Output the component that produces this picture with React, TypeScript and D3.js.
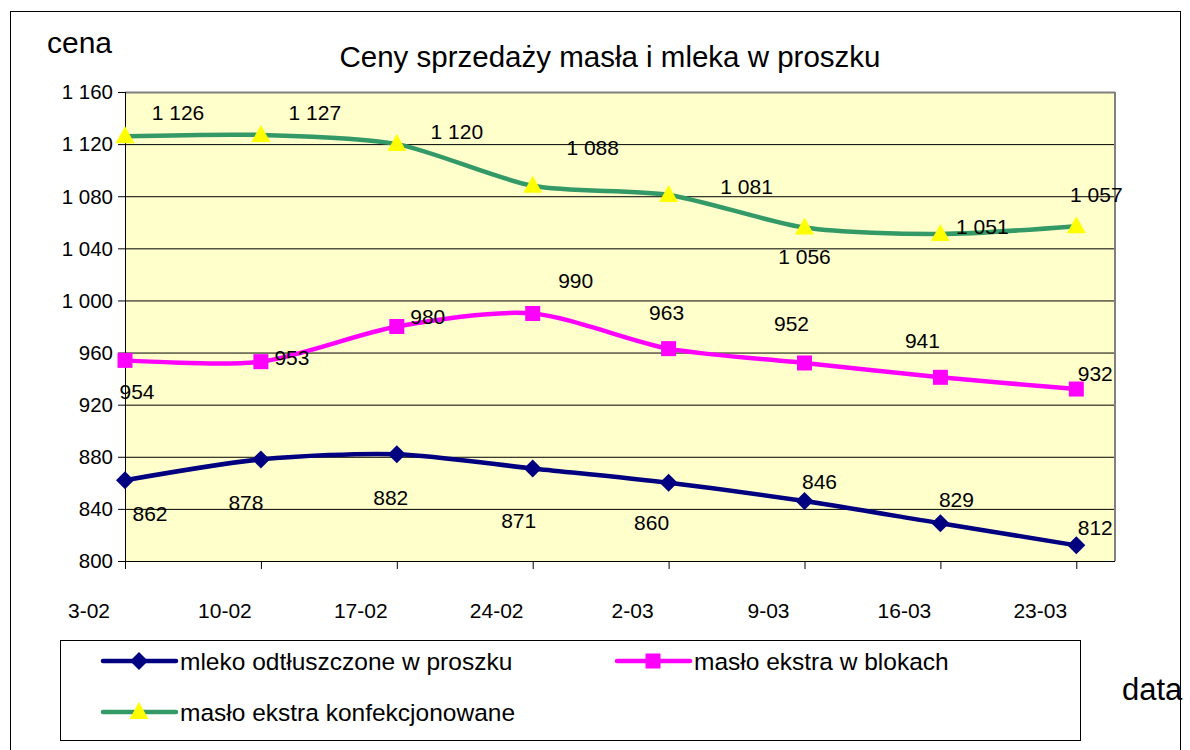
import React from 'react';
import * as d3 from 'd3';

const dates = ['3-02', '10-02', '17-02', '24-02', '2-03', '9-03', '16-03', '23-03'];
const mleko = [862, 878, 882, 871, 860, 846, 829, 812];
const masloBloki = [954, 953, 980, 990, 963, 952, 941, 932];
const masloKonf = [1126, 1127, 1120, 1088, 1081, 1056, 1051, 1057];
const yTicks = [800, 840, 880, 920, 960, 1000, 1040, 1080, 1120, 1160];

// label placement (offset of the label centre from its point), as in the original
const mlekoLabelPos = [[25, 33], [-15, 43], [-6, 43], [-14, 52], [-17, 40], [15, -20], [16, -24], [19, -18]];
const blokiLabelPos = [[12, 31], [31, -4], [31, -10], [43, -33], [-2, -36], [-13, -40], [-18, -37], [19, -16]];
const konfLabelPos = [[53, -24], [54, -23], [60, -13], [60, -38], [78, -8], [0, 29], [42, -8], [20, -32]];

const FONT = '"Liberation Sans", Arial, sans-serif';
const fmt = (v: number) => d3.format(',')(v).replace(/,/g, '\u00a0');

const W = 1190;
const H = 750;
const plot = { left: 125, right: 1115, top: 92, bottom: 561 };
const step = 135.9;

const x = d3.scaleLinear().domain([0, 1]).range([plot.left, plot.left + step]);
const y = d3.scaleLinear().domain([800, 1160]).range([plot.bottom, plot.top]);

const line = d3.line<number>()
  .x((_, i) => x(i))
  .y(d => y(d))
  .curve(d3.curveCardinal.tension(0.2));

const diamond = (cx: number, cy: number, r: number) =>
  `M${cx},${cy - r}L${cx + r},${cy}L${cx},${cy + r}L${cx - r},${cy}Z`;
const triangle = (cx: number, cy: number) =>
  `M${cx},${cy - 10}L${cx + 9.5},${cy + 7}L${cx - 9.5},${cy + 7}Z`;

const series = [
  { name: 'mleko odtłuszczone w proszku', values: mleko, color: '#000080', marker: 'diamond', labels: mlekoLabelPos },
  { name: 'masło ekstra w blokach', values: masloBloki, color: '#FF00FF', marker: 'square', labels: blokiLabelPos },
  { name: 'masło ekstra konfekcjonowane', values: masloKonf, color: '#339966', marker: 'triangle', labels: konfLabelPos },
];

function Marker({ kind, cx, cy }: { kind: string; cx: number; cy: number }) {
  if (kind === 'diamond') return <path d={diamond(cx, cy, 9)} fill="#000080" />;
  if (kind === 'square') return <rect x={cx - 7.5} y={cy - 7.5} width={15} height={15} fill="#FF00FF" />;
  return <path d={triangle(cx, cy)} fill="#FFFF00" />;
}

export default function App() {
  return (
    <svg width={W} height={H} style={{ display: 'block', position: 'absolute', left: 0, top: 0 }} fontFamily={FONT}>
      <rect x={0} y={0} width={W} height={H} fill="#fff" />
      <rect x={10.5} y={11.5} width={1170} height={740} fill="#fff" stroke="#000" strokeWidth={1} />

      <text x={47} y={53} fontSize={30} fill="#000">cena</text>
      <text x={610} y={67} fontSize={29.5} textAnchor="middle" fill="#000">Ceny sprzedaży masła i mleka w proszku</text>
      <text x={1122} y={700} fontSize={31} fill="#000">data</text>

      {/* plot area */}
      <rect x={plot.left} y={plot.top} width={plot.right - plot.left} height={plot.bottom - plot.top} fill="#FFFFCC" />
      {yTicks.map(t => (
        <g key={t}>
          {t !== 800 && t !== 1160 && (
            <line x1={plot.left} x2={plot.right} y1={y(t) + 0.5} y2={y(t) + 0.5} stroke="#000" strokeWidth={1} />
          )}
          <line x1={plot.left - 7} x2={plot.left} y1={y(t) + 0.5} y2={y(t) + 0.5} stroke="#000" />
          <text x={113} y={y(t)} dy="0.36em" fontSize={20.5} textAnchor="end" fill="#000">{fmt(t)}</text>
        </g>
      ))}
      <line x1={plot.left} x2={plot.right} y1={plot.top + 0.5} y2={plot.top + 0.5} stroke="#808080" strokeWidth={2} />
      <line x1={plot.right} x2={plot.right} y1={plot.top} y2={plot.bottom} stroke="#808080" strokeWidth={2} />
      <line x1={plot.left} x2={plot.right} y1={plot.bottom + 0.5} y2={plot.bottom + 0.5} stroke="#000" />
      <line x1={plot.left + 0.5} x2={plot.left + 0.5} y1={plot.top} y2={plot.bottom} stroke="#000" />

      {dates.map((d, i) => (
        <g key={d}>
          <line x1={x(i) + 0.5} x2={x(i) + 0.5} y1={plot.bottom} y2={plot.bottom + 8} stroke="#000" />
          <text x={x(i) - 36} y={610} dy="0.36em" fontSize={21} textAnchor="middle" fill="#000">{d}</text>
        </g>
      ))}

      {series.map(s => (
        <g key={s.name}>
          <path d={line(s.values) ?? ''} fill="none" stroke={s.color} strokeWidth={4.5} strokeLinejoin="round" />
          {s.values.map((v, i) => (
            <Marker key={i} kind={s.marker} cx={x(i)} cy={y(v)} />
          ))}
          {s.values.map((v, i) => (
            <text key={'l' + i} x={x(i) + s.labels[i][0]} y={y(v) + s.labels[i][1]} dy="0.36em"
              fontSize={21} textAnchor="middle" fill="#000">{fmt(v)}</text>
          ))}
        </g>
      ))}

      {/* legend */}
      <rect x={60.5} y={640.5} width={1020} height={100} fill="#fff" stroke="#000" />
      {series.map((s, i) => {
        const lx = i === 1 ? 617 : 103;
        const ly = i === 2 ? 712 : 661;
        return (
          <g key={'lg' + s.name}>
            <line x1={lx} x2={lx + 73} y1={ly} y2={ly} stroke={s.color} strokeWidth={4.5} strokeLinecap="round" />
            <Marker kind={s.marker} cx={lx + 36} cy={ly} />
            <text x={lx + 77} y={ly} dy="0.36em" fontSize={24.5} fill="#000">{s.name}</text>
          </g>
        );
      })}
    </svg>
  );
}
